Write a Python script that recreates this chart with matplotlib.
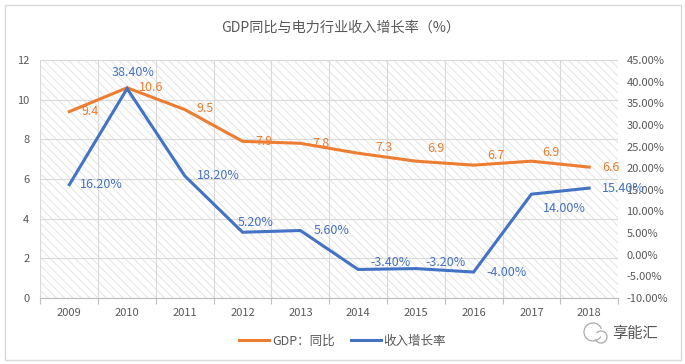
import matplotlib as mpl

mpl.use("Agg")
import matplotlib.pyplot as plt
from matplotlib.patches import Rectangle, Arc
from matplotlib.lines import Line2D
from matplotlib.transforms import IdentityTransform

years = ["2009", "2010", "2011", "2012", "2013", "2014", "2015", "2016", "2017", "2018"]
gdp = [9.4, 10.6, 9.5, 7.9, 7.8, 7.3, 6.9, 6.7, 6.9, 6.6]
revenue = [16.2, 38.4, 18.2, 5.2, 5.6, -3.4, -3.2, -4.0, 14.0, 15.4]
gdp_labels = ["9.4", "10.6", "9.5", "7.9", "7.8", "7.3", "6.9", "6.7", "6.9", "6.6"]
rev_labels = ["16.20%", "38.40%", "18.20%", "5.20%", "5.60%",
              "-3.40%", "-3.20%", "-4.00%", "14.00%", "15.40%"]
left_ticks = [0, 2, 4, 6, 8, 10, 12]
right_ticks = [-10, -5, 0, 5, 10, 15, 20, 25, 30, 35, 40, 45]

title = "GDP同比与电力行业收入增长率（%）"
series_names = ["GDP：同比", "收入增长率"]

# label offsets in pixels (dx, dy), text anchored at its left edge
gdp_offsets = [(12, 0), (12, 0), (12, 1), (13, 0), (12, 0),
               (17, 6), (11, 13), (14, 10), (11, 9), (13, 0)]
rev_offsets = [(11, 0), (-15, 16), (12, 0), (-5, 10), (13, 0),
               (12, 7), (10, 6), (13, 0), (12, -14), (13, 0)]

ORANGE = "#ED7D31"
BLUE = "#4472C4"
TEXT = "#595959"
GRID = "#D9D9D9"

plt.rcParams["font.family"] = ["Noto Sans CJK SC", "DejaVu Sans"]
plt.rcParams["hatch.linewidth"] = 0.7

fig = plt.figure(figsize=(6.85, 3.64), dpi=100)
fig.patch.set_facecolor("white")
ax = fig.add_axes([0.0591, 0.1813, 0.8431, 0.6538])
ax2 = ax.twinx()

x = list(range(len(years)))

# hatched plot background
ax.add_patch(Rectangle((0, 0), 1, 1, transform=ax.transAxes, facecolor="white",
                       edgecolor="#E4E4E4", hatch="\\\\\\\\", linewidth=0, zorder=0.1))

ax.plot(x, gdp, color=ORANGE, lw=2.2, zorder=3, solid_joinstyle="miter")
ax2.plot(x, revenue, color=BLUE, lw=2.2, zorder=3, solid_joinstyle="miter")

for xi, v, s, (dx, dy) in zip(x, gdp, gdp_labels, gdp_offsets):
    ax.annotate(s, (xi, v), xytext=(dx, dy), textcoords="offset pixels",
                ha="left", va="center", fontsize=9, color=ORANGE, zorder=4)
for xi, v, s, (dx, dy) in zip(x, revenue, rev_labels, rev_offsets):
    ax2.annotate(s, (xi, v), xytext=(dx, dy), textcoords="offset pixels",
                 ha="left", va="center", fontsize=9, color=BLUE, zorder=4)

ax.set_xlim(-0.5, len(years) - 0.5)
ax.set_ylim(0, 12)
ax2.set_ylim(-10, 45)

ax.set_xticks(x)
ax.set_xticklabels(years)
ax.set_xticks([i - 0.5 for i in range(len(years) + 1)], minor=True)
ax.set_yticks(left_ticks)
ax2.set_yticks(right_ticks)
ax2.set_yticklabels([f"{t:.2f}%" for t in right_ticks])

ax.set_axisbelow(True)
ax.grid(axis="y", which="major", color=GRID, lw=0.8, zorder=0.5)
ax.grid(axis="x", which="minor", color=GRID, lw=0.8, zorder=0.5)

ax.tick_params(axis="x", which="major", length=0, pad=7, labelsize=8, labelcolor=TEXT)
ax.tick_params(axis="x", which="minor", length=4, color="#BFBFBF", width=0.8)
ax.tick_params(axis="y", length=0, pad=8, labelsize=8, labelcolor=TEXT)
ax2.tick_params(axis="y", length=0, pad=6, labelsize=8, labelcolor=TEXT)

for a in (ax, ax2):
    for name, sp in a.spines.items():
        sp.set_visible(name == "bottom")
        sp.set_color("#BFBFBF")

fig.text(0.497, 0.925, title, ha="center", va="center", fontsize=10.2, color=TEXT)

handles = [Line2D([], [], color=ORANGE, lw=2.2), Line2D([], [], color=BLUE, lw=2.2)]
fig.legend(handles, series_names, loc="center", bbox_to_anchor=(0.5, 0.063), ncol=2,
           frameon=False, fontsize=9, labelcolor=TEXT, handlelength=2.4,
           handletextpad=0.2, columnspacing=1.3)

# watermark
fig.text(0.893, 0.085, "享能汇", ha="left", va="center", fontsize=11, color="#555555")
for cx, cy, r, t1, t2 in [(593, 32, 9, 20, 330), (601, 27, 6, 200, 140)]:
    fig.patches.append(Arc((cx, cy), 2 * r, 2 * r, theta1=t1, theta2=t2,
                           transform=IdentityTransform(), color="#AAAAAA", lw=0.9))

# outer chart border
fig.patches.append(Rectangle((5 / 685, 4 / 364), 676 / 685, 355 / 364,
                             transform=fig.transFigure, fill=False,
                             edgecolor="#D9D9D9", lw=1))

fig.savefig("out.png", dpi=100)
